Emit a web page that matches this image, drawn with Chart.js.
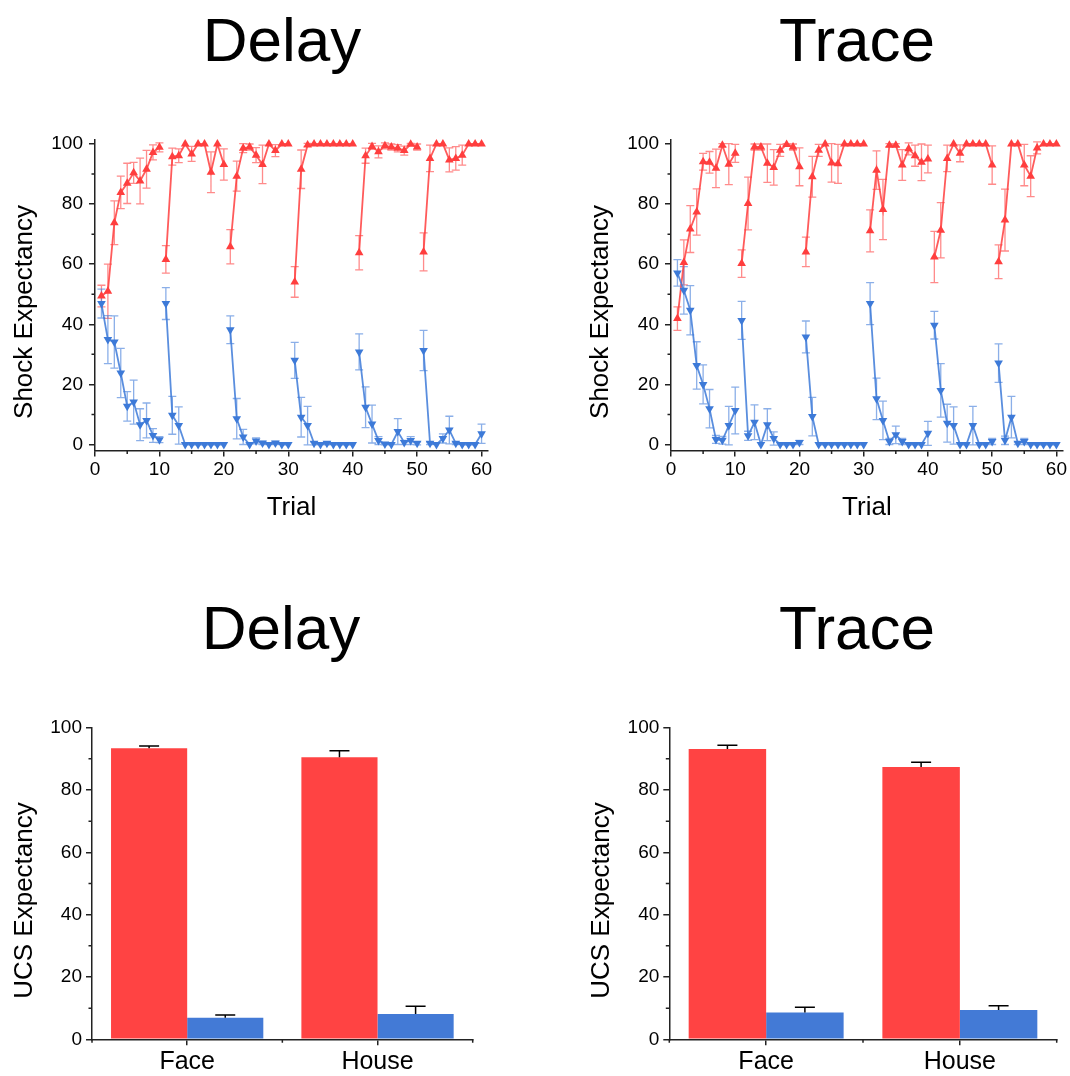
<!DOCTYPE html>
<html lang="en">
<head>
<meta charset="UTF-8">
<title>Delay / Trace shock expectancy</title>
<script src="https://cdn.jsdelivr.net/npm/chart.js@4.4.1/dist/chart.umd.min.js"></script>
<style>
  body { margin: 0; background: #fff; width: 1070px; height: 1076px; position: relative; overflow: hidden;
         font-family: "Liberation Sans", Arial, sans-serif; }
  .title { position: absolute; width: 300px; text-align: center; font-size: 62px; line-height: 62px; color: #000; }
  canvas { position: absolute; }
</style>
</head>
<body>
<div class="title" style="left:132px; top:9px">Delay</div>
<div class="title" style="left:707px; top:9px">Trace</div>
<div class="title" style="left:131px; top:597px">Delay</div>
<div class="title" style="left:707px; top:597px">Trace</div>

<canvas id="delayLine" width="535" height="440" style="left:0; top:100px"></canvas>
<canvas id="traceLine" width="535" height="440" style="left:535px; top:100px"></canvas>
<canvas id="delayBar" width="535" height="386" style="left:0; top:690px"></canvas>
<canvas id="traceBar" width="535" height="386" style="left:535px; top:690px"></canvas>

<script>
// trial numbers 1..60, run in blocks of 10
var trials = Array.from({ length: 60 }, function (_, i) { return i + 1; });
var blockSize = 10;

// Delay, trial-by-trial shock expectancy (mean, sem)
var delayUp = [49.4, 51, 73.8, 83.9, 86.9, 90.4, 87.7, 91.6, 97.2, 98.9,
  61.6, 95.8, 96.1, 100, 96.7, 100, 100, 90.6, 100, 93.2,
  65.8, 89.3, 98.6, 99, 96.3, 93.2, 100, 97.8, 100, 100,
  54.1, 91.6, 99.7, 100, 100, 100, 100, 100, 100, 100,
  63.8, 96.1, 99.2, 97.4, 99.4, 99, 98.6, 97.8, 99.9, 99,
  64.1, 95.2, 100, 100, 94.7, 95.2, 96.3, 100, 100, 100];
var delayUpErr = [3.6, 9, 7.3, 5.4, 6.7, 3.5, 7.6, 6.3, 2.5, 1.5,
  4.6, 2.8, 2.3, 0, 2.5, 0, 0, 6.8, 0, 5.2,
  5.7, 5, 1.5, 1, 2.5, 6.4, 0, 2, 0, 0,
  5.1, 6.4, 0.5, 0, 0, 0, 0, 0, 0, 0,
  5.7, 2.5, 1, 2, 1, 1, 1.2, 1.5, 0.3, 1,
  6.3, 4.4, 0, 0, 4, 3.9, 3.3, 0, 0, 0];
var delayDown = [46.9, 34.9, 34.1, 23.8, 12.7, 14.1, 6.6, 8, 3, 1.6,
  46.9, 9.7, 6.3, 0, 0, 0, 0, 0, 0, 0,
  38.2, 8.6, 2.5, 0, 1.2, 0.5, 0, 0.5, 0, 0,
  28, 9.1, 6.3, 0.4, 0, 0.4, 0, 0, 0, 0,
  30.8, 12.4, 6.8, 1.3, 0.2, 0, 4.3, 0.7, 1.3, 0.4,
  31.3, 0.4, 0, 2, 4.8, 0.4, 0, 0, 0, 3.6];
var delayDownErr = [4.8, 8, 8.7, 8.2, 4.9, 7.3, 5.3, 5.8, 2.3, 1,
  5.3, 6.3, 6.2, 0, 0, 0, 0, 0, 0, 0,
  4.6, 6.7, 2.5, 0, 1, 0.5, 0, 0.5, 0, 0,
  6, 6.6, 6.4, 0.5, 0, 0.5, 0, 0, 0, 0,
  6, 6.8, 6.3, 1.3, 0.3, 0, 4.3, 0.7, 1.3, 0.5,
  6.7, 0.4, 0, 1.5, 4.6, 0.4, 0, 0, 0, 3.2];

// Trace, trial-by-trial shock expectancy (mean, sem)
var traceUp = [41.9, 60.6, 71.7, 77.4, 94.1, 93.9, 91.9, 99.6, 93.3, 96.9,
  60.2, 80.2, 99, 99, 93.6, 92.2, 97.9, 99.8, 99, 92.4,
  64.1, 89.1, 97.9, 100, 93.7, 93.4, 100, 100, 100, 100,
  71.1, 91.3, 78.2, 99.6, 99.6, 93, 98.4, 96.1, 93.9, 95,
  62.4, 71.3, 95.2, 100, 96.9, 100, 100, 100, 100, 93,
  60.8, 74.7, 100, 100, 93, 89.3, 98.7, 100, 100, 100];
var traceUpErr = [3.9, 7.5, 7.8, 7.7, 2.8, 3.6, 6.4, 0.5, 6.8, 3,
  4.6, 8.8, 1, 1, 6.4, 5.9, 2, 0.3, 1, 6.3,
  4.9, 6.8, 2, 0, 6.4, 6.5, 0, 0, 0, 0,
  7, 6.4, 10, 0.5, 0.5, 5.1, 2, 3.5, 6.1, 4.6,
  8.5, 9.2, 4.4, 0, 2.8, 0, 0, 0, 0, 6.4,
  5.6, 10.3, 0, 0, 6.9, 6.8, 2, 0, 0, 0];
var traceDown = [57.1, 51.3, 44.7, 26.3, 20, 11.9, 1.7, 1.4, 6.3, 11.3,
  41.3, 2.9, 7.4, 0, 6.6, 2, 0, 0, 0, 0.7,
  35.8, 9.3, 0, 0, 0, 0, 0, 0, 0, 0,
  46.9, 15.2, 8, 1, 3.2, 1, 0, 0, 0, 3.7,
  39.7, 18, 7.1, 6.3, 0, 0, 6.3, 0, 0, 1,
  27.1, 1.4, 9.1, 0.4, 1, 0, 0, 0, 0, 0];
var traceDownErr = [4.4, 7.9, 8.2, 7.9, 6.5, 6.4, 1.3, 1.3, 6.4, 7.8,
  6.3, 1.5, 5.8, 0, 5.3, 2.2, 0, 0, 0, 0.7,
  5.3, 6.4, 0, 0, 0, 0, 0, 0, 0, 0,
  7, 6.9, 6.4, 1, 2.9, 1, 0, 0, 0, 4,
  4.6, 8.9, 6.3, 6.2, 0, 0, 6.4, 0, 0, 1,
  6.4, 1.4, 6.9, 0.4, 1, 0, 0, 0, 0, 0];

// UCS expectancy summary
var stimuli = ['Face', 'House'];
var delayBarUp = [93.4, 90.5];
var delayBarUpErr = [0.7, 2.1];
var delayBarDown = [6.95, 8.1];
var delayBarDownErr = [0.85, 2.5];
var traceBarUp = [93.2, 87.4];
var traceBarUpErr = [1.2, 1.5];
var traceBarDown = [8.6, 9.4];
var traceBarDownErr = [1.7, 1.4];

var RED = '#ff3e3e', BLUE = '#3d7ad8';
var AXIS = '#222';
var FONT = '"Liberation Sans", Arial, sans-serif';

Chart.defaults.font.family = FONT;
Chart.defaults.color = '#000';

// error bars drawn with the y scale
var errorBars = {
  id: 'errorBars',
  beforeDatasetsDraw: function (chart, args, opts) { if (opts.layer === 'before') drawErrors(chart, opts); },
  afterDatasetsDraw: function (chart, args, opts) { if (opts.layer !== 'before') drawErrors(chart, opts); }
};
function drawErrors(chart, opts) {
  var ctx = chart.ctx, ys = chart.scales.y;
  chart.data.datasets.forEach(function (ds, i) {
    if (!ds.errors) return;
    var meta = chart.getDatasetMeta(i);
    ctx.save();
    ctx.strokeStyle = ds.errorColor || '#000';
    ctx.lineWidth = opts.width;
    ctx.beginPath();
    meta.data.forEach(function (el, j) {
      var e = ds.errors[j];
      if (!e) return;
      var raw = ds.data[j];
      var v = typeof raw === 'object' ? raw.y : raw;
      var top = ys.getPixelForValue(v + e);
      var bot = opts.upOnly ? el.y : ys.getPixelForValue(v - e);
      ctx.moveTo(el.x, top); ctx.lineTo(el.x, bot);
      ctx.moveTo(el.x - opts.cap, top); ctx.lineTo(el.x + opts.cap, top);
      if (!opts.upOnly) { ctx.moveTo(el.x - opts.cap, bot); ctx.lineTo(el.x + opts.cap, bot); }
    });
    ctx.stroke();
    ctx.restore();
  });
}

// short unlabelled ticks between the labelled ones
var minorTicks = {
  id: 'minorTicks',
  afterDraw: function (chart, args, opts) {
    var ctx = chart.ctx, xs = chart.scales.x, ys = chart.scales.y, area = chart.chartArea;
    var v, p;
    ctx.save();
    ctx.strokeStyle = AXIS;
    ctx.lineWidth = 1.5;
    ctx.beginPath();
    for (v = Math.ceil(ys.min / opts.yStep) * opts.yStep; v <= ys.max; v += opts.yStep) {
      if (v % opts.yMajor === 0) continue;
      p = ys.getPixelForValue(v);
      ctx.moveTo(area.left - opts.len, p); ctx.lineTo(area.left, p);
    }
    if (opts.xStep) {
      for (v = Math.ceil(xs.min / opts.xStep) * opts.xStep; v <= xs.max; v += opts.xStep) {
        if (v % opts.xMajor === 0) continue;
        p = xs.getPixelForValue(v);
        ctx.moveTo(p, area.bottom); ctx.lineTo(p, area.bottom + opts.len);
      }
    } else {
      for (v = -0.5; v <= stimuli.length - 0.5; v += 1) {
        p = xs.getPixelForValue(v);
        ctx.moveTo(p, area.bottom); ctx.lineTo(p, area.bottom + opts.len);
      }
    }
    ctx.stroke();
    ctx.restore();
  }
};

// rotated y-axis title, sitting a little below the middle of the axis like the original
var yTitle = {
  id: 'yTitle',
  afterDraw: function (chart, args, opts) {
    var ctx = chart.ctx, area = chart.chartArea;
    ctx.save();
    ctx.font = '26px ' + FONT;
    ctx.fillStyle = '#000';
    ctx.textAlign = 'center';
    ctx.textBaseline = 'middle';
    ctx.translate(opts.x, (area.top + area.bottom) / 2 + opts.shift);
    ctx.rotate(-Math.PI / 2);
    ctx.fillText(opts.text, 0, 0);
    ctx.restore();
  }
};

function points(values) {
  return values.map(function (v, i) { return { x: trials[i], y: v }; });
}

// no connecting line from the last trial of one block to the first of the next
var blockGap = {
  borderColor: function (ctx) {
    return trials[ctx.p0DataIndex] % blockSize === 0 ? 'rgba(0,0,0,0)' : undefined;
  }
};

function lineChart(id, up, upErr, down, downErr, padLeft, padRight) {
  return new Chart(document.getElementById(id), {
    type: 'line',
    data: {
      datasets: [{
        data: points(up), errors: upErr, errorColor: 'rgba(255,62,62,0.6)',
        borderColor: 'rgba(255,62,62,0.85)', borderWidth: 1.8, segment: blockGap,
        pointStyle: 'triangle', pointRadius: 5, pointBorderWidth: 0,
        pointBackgroundColor: RED, order: 1, clip: false
      }, {
        data: points(down), errors: downErr, errorColor: 'rgba(61,122,216,0.6)',
        borderColor: 'rgba(61,122,216,0.85)', borderWidth: 1.8, segment: blockGap,
        pointStyle: 'triangle', pointRotation: 180, pointRadius: 5, pointBorderWidth: 0,
        pointBackgroundColor: BLUE, order: 0, clip: false
      }]
    },
    options: {
      responsive: false, animation: false,
      layout: { padding: { left: padLeft, right: padRight, top: 39.5, bottom: 0 } },
      plugins: {
        legend: { display: false }, tooltip: { enabled: false },
        errorBars: { layer: 'before', width: 1.3, cap: 4 },
        minorTicks: { yStep: 10, yMajor: 20, xStep: 5, xMajor: 10, len: 3.5 },
        yTitle: { text: 'Shock Expectancy', x: padLeft + 24.6, shift: 17 }
      },
      scales: {
        x: {
          type: 'linear', min: 0, max: 61,
          afterBuildTicks: function (s) { s.ticks = s.ticks.filter(function (t) { return t.value % 10 === 0; }); },
          afterFit: function (s) { s.height = 89.5; },
          ticks: { stepSize: 10, includeBounds: false, padding: 2, font: { size: 19 }, color: '#000' },
          grid: { drawOnChartArea: false, tickLength: 6, color: AXIS, lineWidth: 1.5 },
          border: { color: AXIS, width: 1.5 },
          title: { display: true, text: 'Trial', font: { size: 26 }, color: '#000', padding: { top: 0, bottom: 16.5 } }
        },
        y: {
          min: -2, max: 101.5,
          afterBuildTicks: function (s) { s.ticks = s.ticks.filter(function (t) { return t.value % 20 === 0; }); },
          afterFit: function (s) { s.width = 95; },
          ticks: { stepSize: 20, includeBounds: false, padding: 6, font: { size: 19 }, color: '#000' },
          grid: { drawOnChartArea: false, tickLength: 6, color: AXIS, lineWidth: 1.5 },
          border: { color: AXIS, width: 1.5 }
        }
      }
    },
    plugins: [errorBars, minorTicks, yTitle]
  });
}

function barChart(id, up, upErr, down, downErr, padLeft, padRight) {
  return new Chart(document.getElementById(id), {
    type: 'bar',
    data: {
      labels: stimuli,
      datasets: [{
        data: up, errors: upErr, errorColor: '#000',
        backgroundColor: '#ff4343', categoryPercentage: 0.8, barPercentage: 1.0
      }, {
        data: down, errors: downErr, errorColor: '#000',
        backgroundColor: '#437ad6', categoryPercentage: 0.8, barPercentage: 1.0
      }]
    },
    options: {
      responsive: false, animation: false,
      layout: { padding: { left: padLeft, right: padRight, top: 37.7, bottom: 0 } },
      plugins: {
        legend: { display: false }, tooltip: { enabled: false },
        errorBars: { layer: 'after', upOnly: true, width: 1.5, cap: 10 },
        minorTicks: { yStep: 10, yMajor: 20, len: 3.5 },
        yTitle: { text: 'UCS Expectancy', x: padLeft + 24.6, shift: 17 }
      },
      scales: {
        x: {
          afterFit: function (s) { s.height = 36.7; },
          ticks: { padding: 2, font: { size: 25 }, color: '#000' },
          grid: { drawOnChartArea: false, offset: false, tickLength: 6, color: AXIS, lineWidth: 1.5 },
          border: { color: AXIS, width: 1.5 }
        },
        y: {
          min: 0, max: 100,
          afterFit: function (s) { s.width = 92; },
          ticks: { stepSize: 20, padding: 4, font: { size: 19 }, color: '#000' },
          grid: { drawOnChartArea: false, tickLength: 6, color: AXIS, lineWidth: 1.5 },
          border: { color: AXIS, width: 1.5 }
        }
      }
    },
    plugins: [errorBars, minorTicks, yTitle]
  });
}

lineChart('delayLine', delayUp, delayUpErr, delayDown, delayDownErr, 0, 47);
lineChart('traceLine', traceUp, traceUpErr, traceDown, traceDownErr, 41, 7.2);
barChart('delayBar', delayBarUp, delayBarUpErr, delayBarDown, delayBarDownErr, 0, 62.3);
barChart('traceBar', traceBarUp, traceBarUpErr, traceBarDown, traceBarDownErr, 42.3, 13.3);
</script>
</body>
</html>
